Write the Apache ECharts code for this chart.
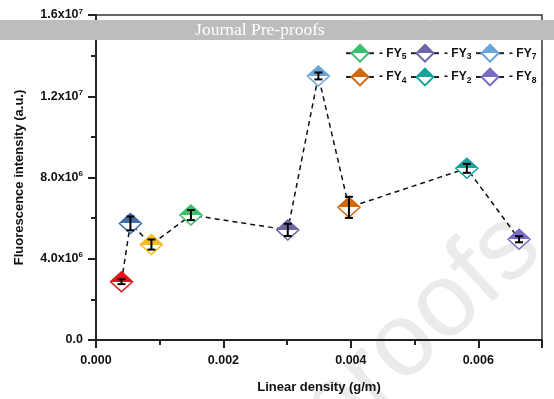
<!DOCTYPE html>
<html>
<head>
<meta charset="utf-8">
<script src="https://cdn.jsdelivr.net/npm/echarts@6/dist/echarts.min.js"></script>
<style>
  html, body { margin: 0; padding: 0; background: #fff; }
  #chart { width: 554px; height: 399px; }
</style>
</head>
<body>
<div id="chart"></div>
<script>
// samples, ordered by linear density
const names = ['FY1', 'FY6', 'FY9', 'FY5', 'FY3', 'FY7', 'FY4', 'FY2', 'FY8'];
const colors = ['#e3141c', '#3f6eaa', '#f4bf26', '#3cbf6c', '#6b69a5', '#6aa5da', '#d0690e', '#16a399', '#7a6cc6'];
const density = [0.00040, 0.00054, 0.00087, 0.00149, 0.00301, 0.00349, 0.00397, 0.00582, 0.00664];
const intensity = [2.87e6, 5.74e6, 4.70e6, 6.15e6, 5.42e6, 13.0e6, 6.53e6, 8.45e6, 4.96e6];
const errors = [0.12e6, 0.34e6, 0.25e6, 0.25e6, 0.30e6, 0.17e6, 0.52e6, 0.22e6, 0.15e6];

// legend columns (first row hidden under the banner)
const legendCols = [['FY1', 'FY5', 'FY4'], ['FY6', 'FY3', 'FY2'], ['FY9', 'FY7', 'FY8']];

const chart = echarts.init(document.getElementById('chart'));
const font = 'Liberation Sans, Arial, sans-serif';

function halfFill(c) {
  return {
    type: 'linear', x: 0, y: 0, x2: 0, y2: 1,
    colorStops: [
      { offset: 0, color: c }, { offset: 0.5, color: c },
      { offset: 0.5, color: '#fff' }, { offset: 1, color: '#fff' }
    ]
  };
}

function sciLabel(v) {
  if (v === 0) return '0.0';
  const e = Math.floor(Math.log10(v) + 1e-9);
  const m = v / Math.pow(10, e);
  return m.toFixed(1) + 'x10{sup|' + e + '}';
}

const pointSeries = names.map(function (n, i) {
  return {
    name: n,
    type: 'line',
    data: [[density[i], intensity[i]]],
    symbol: 'diamond',
    symbolSize: [22, 20],
    itemStyle: { color: halfFill(colors[i]), borderColor: colors[i], borderWidth: 1.5 },
    lineStyle: { color: '#222', width: 1.5 },
    z: 3
  };
});

const legends = legendCols.map(function (col, k) {
  return {
    data: col,
    orient: 'vertical',
    left: 345 + k * 65,
    top: 20,
    padding: 0,
    itemWidth: 28,
    itemHeight: 21,
    itemGap: 5,
    formatter: function (n) { return '- FY{sub|' + n.slice(2) + '}'; },
    textStyle: {
      fontFamily: font, fontWeight: 'bold', fontSize: 12, color: '#111',
      rich: { sub: { fontFamily: font, fontWeight: 'bold', fontSize: 8.5, color: '#111', padding: [7, 0, 0, 0] } }
    }
  };
});

const option = {
  animation: false,
  backgroundColor: '#fff',
  grid: { left: 96, right: 12, top: 15, bottom: 59, show: true, borderColor: '#333', borderWidth: 1.5 },
  legend: legends,
  xAxis: {
    type: 'value',
    min: 0, max: 0.007, interval: 0.002,
    name: 'Linear density (g/m)',
    nameLocation: 'middle',
    nameGap: 41,
    nameTextStyle: { fontFamily: font, fontWeight: 'bold', fontSize: 13, color: '#111' },
    axisLine: { lineStyle: { color: '#222', width: 1.8 } },
    axisTick: { inside: false, length: 8, lineStyle: { width: 2, color: '#222' } },
    minorTick: { show: true, splitNumber: 2, length: 5, lineStyle: { width: 2, color: '#222' } },
    splitLine: { show: false },
    axisLabel: {
      fontFamily: font, fontWeight: 'bold', fontSize: 12.5, color: '#111', margin: 14,
      showMaxLabel: false,
      formatter: function (v) { return v.toFixed(3); }
    }
  },
  yAxis: {
    type: 'value',
    min: 0, max: 1.6e7, interval: 4e6,
    name: 'Fluorescence intensity (a.u.)',
    nameLocation: 'middle',
    nameGap: 70,
    nameTextStyle: { fontFamily: font, fontWeight: 'bold', fontSize: 13, color: '#111' },
    axisLine: { show: true, lineStyle: { color: '#222', width: 1.8 } },
    axisTick: { inside: false, length: 8, lineStyle: { width: 2, color: '#222' } },
    minorTick: { show: true, splitNumber: 2, length: 5, lineStyle: { width: 2, color: '#222' } },
    splitLine: { show: false },
    axisLabel: {
      fontFamily: font, fontWeight: 'bold', fontSize: 12.5, color: '#111', margin: 13,
      formatter: sciLabel,
      rich: { sup: { fontFamily: font, fontWeight: 'bold', fontSize: 8, color: '#111', padding: [0, 0, 7, 0] } }
    }
  },
  graphic: [
    {
      type: 'text', z: -10, silent: true,
      x: 420, y: 330, rotation: 0.75,
      style: { text: 'proofs', fontFamily: font, fontSize: 104, fill: '#ebebeb', textAlign: 'center', textVerticalAlign: 'middle' }
    },
    {
      type: 'rect', z: 100, silent: true,
      shape: { x: 0, y: 20, width: 554, height: 20 },
      style: { fill: '#bdbdbd' }
    },
    {
      type: 'text', z: 101, silent: true,
      x: 260, y: 30,
      style: { text: 'Journal Pre-proofs', fontFamily: 'Liberation Serif, serif', fontSize: 17.5, fill: '#fff', textAlign: 'center', textVerticalAlign: 'middle' }
    }
  ],
  series: [
    {
      name: 'trend',
      type: 'line',
      data: density.map(function (x, i) { return [x, intensity[i]]; }),
      symbol: 'none',
      lineStyle: { color: '#111', width: 1.5, type: [5, 4] },
      z: 2
    }
  ].concat(pointSeries).concat([
    {
      name: 'error',
      type: 'custom',
      z: 5,
      data: density.map(function (x, i) { return [x, intensity[i] - errors[i], intensity[i] + errors[i]]; }),
      renderItem: function (params, api) {
        const lo = api.coord([api.value(0), api.value(1)]);
        const hi = api.coord([api.value(0), api.value(2)]);
        const w = 4;
        const st = { stroke: '#000', lineWidth: 2 };
        return {
          type: 'group',
          children: [
            { type: 'line', shape: { x1: lo[0], y1: lo[1], x2: hi[0], y2: hi[1] }, style: st },
            { type: 'line', shape: { x1: lo[0] - w, y1: lo[1], x2: lo[0] + w, y2: lo[1] }, style: st },
            { type: 'line', shape: { x1: hi[0] - w, y1: hi[1], x2: hi[0] + w, y2: hi[1] }, style: st }
          ]
        };
      }
    }
  ])
};

chart.setOption(option);
</script>
</body>
</html>
